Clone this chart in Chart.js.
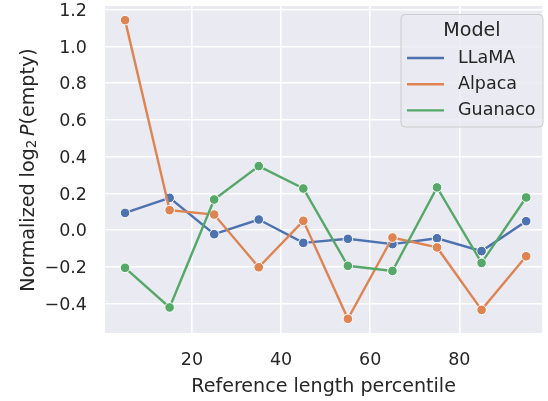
<!DOCTYPE html>
<html>
<head>
<meta charset="utf-8">
<script src="https://cdn.jsdelivr.net/npm/chart.js@4.4.1/dist/chart.umd.min.js"></script>
<style>
  html, body { margin: 0; padding: 0; background: #ffffff; overflow: hidden; }
  #wrap { width: 548px; height: 401px; }
</style>
</head>
<body>
<div id="wrap"><canvas id="c" width="548" height="401"></canvas></div>
<script>
// ---- data ----
const percentiles = [5, 15, 25, 35, 45, 55, 65, 75, 85, 95];
const seriesNames = ["LLaMA", "Alpaca", "Guanaco"];
const llama   = [0.094, 0.176, -0.022, 0.058, -0.069, -0.047, -0.076, -0.044, -0.114, 0.049];
const alpaca  = [1.144, 0.109, 0.085, -0.202, 0.051, -0.483, -0.040, -0.094, -0.434, -0.142];
const guanaco = [-0.205, -0.421, 0.167, 0.349, 0.227, -0.194, -0.222, 0.233, -0.178, 0.178];
const xTickValues = [20, 40, 60, 80];
const yTickValues = [-0.4, -0.2, 0.0, 0.2, 0.4, 0.6, 0.8, 1.0, 1.2];
const xTitle = "Reference length percentile";
const legendTitle = "Model";

const colors = ["#4C72B0", "#DD8452", "#55A868"];
const textColor = "#262626";
const FONT = "'DejaVu Sans', sans-serif";

function pts(arr) { return percentiles.map((p, i) => ({ x: p, y: arr[i] })); }
const seriesValues = [llama, alpaca, guanaco];

const datasets = seriesValues.map((vals, i) => ({
  label: seriesNames[i],
  data: pts(vals),
  borderColor: colors[i],
  backgroundColor: colors[i],
  pointBackgroundColor: colors[i],
  pointBorderColor: "#ffffff",
  pointBorderWidth: 1,
  pointRadius: 4.8,
  borderWidth: 2.4,
  tension: 0,
  order: seriesNames.length - i
}));

const bgPlugin = {
  id: "bg",
  beforeDraw(chart) {
    const { ctx, chartArea: a } = chart;
    ctx.save();
    ctx.fillStyle = "#EAEAF2";
    ctx.fillRect(a.left, a.top, a.right - a.left, a.bottom - a.top);
    ctx.restore();
  }
};

const yTitlePlugin = {
  id: "ytitle",
  afterDraw(chart) {
    const ctx = chart.ctx;
    const size = 19.1, sub = 13.4;
    const segs = [
      { t: "Normalized log", f: `${size}px ${FONT}`, dy: 0 },
      { t: "2", f: `${sub}px ${FONT}`, dy: 2.0 },
      { t: "\u2009", f: `${size}px ${FONT}`, dy: 0 },
      { t: "P", f: `oblique ${size}px ${FONT}`, dy: 0 },
      { t: "(empty)", f: `${size}px ${FONT}`, dy: 0 }
    ];
    ctx.save();
    let total = 0;
    segs.forEach(s => { ctx.font = s.f; s.w = ctx.measureText(s.t).width; total += s.w; });
    ctx.translate(34.3, 170);
    ctx.rotate(-Math.PI / 2);
    ctx.fillStyle = textColor;
    ctx.textBaseline = "alphabetic";
    ctx.textAlign = "left";
    let u = -total / 2;
    segs.forEach(s => { ctx.font = s.f; ctx.fillText(s.t, u, s.dy); u += s.w; });
    ctx.restore();
  }
};

const legendPlugin = {
  id: "customLegend",
  afterDraw(chart) {
    const ctx = chart.ctx;
    const x0 = 401, y0 = 14.5, w = 142, h = 112.5, r = 4;
    ctx.save();
    ctx.beginPath();
    ctx.roundRect(x0, y0, w, h, r);
    ctx.fillStyle = "rgba(234,234,242,0.8)";
    ctx.fill();
    ctx.lineWidth = 1;
    ctx.strokeStyle = "#CCCCCC";
    ctx.stroke();
    ctx.fillStyle = textColor;
    ctx.textBaseline = "middle";
    ctx.textAlign = "center";
    ctx.font = `19.1px ${FONT}`;
    ctx.fillText(legendTitle, 472, 31.5);
    ctx.textAlign = "left";
    ctx.font = `17.5px ${FONT}`;
    chart.data.datasets.forEach((ds, i) => {
      const y = 58 + i * 26.2;
      ctx.strokeStyle = ds.borderColor;
      ctx.lineWidth = 2.4;
      ctx.beginPath();
      ctx.moveTo(407, y);
      ctx.lineTo(444, y);
      ctx.stroke();
      ctx.fillStyle = textColor;
      ctx.fillText(ds.label, 458, y);
    });
    ctx.restore();
  }
};

function fmtY(v) {
  const s = Number(v).toFixed(1);
  return s.replace("-", "\u2212");
}

new Chart(document.getElementById("c"), {
  type: "line",
  data: { datasets },
  plugins: [bgPlugin, yTitlePlugin, legendPlugin],
  options: {
    responsive: false,
    devicePixelRatio: 1,
    animation: false,
    layout: { padding: { top: 6, left: 0, right: 0, bottom: 0 } },
    plugins: { legend: { display: false }, tooltip: { enabled: false } },
    scales: {
      x: {
        type: "linear",
        min: 0.5,
        max: 98.6,
        border: { display: false },
        grid: { color: "#ffffff", lineWidth: 1.6, drawTicks: false },
        afterBuildTicks(scale) { scale.ticks = xTickValues.map(v => ({ value: v })); },
        afterFit(scale) { scale.height = 68; scale.paddingLeft = 0; scale.paddingRight = 0; },
        ticks: {
          padding: 17,
          color: textColor,
          font: { family: FONT, size: 17.5 },
          maxRotation: 0,
          callback: v => String(v)
        },
        title: {
          display: true,
          text: xTitle,
          color: textColor,
          font: { family: FONT, size: 19.1, lineHeight: 1.2 },
          padding: { top: 0, bottom: 3 }
        }
      },
      y: {
        type: "linear",
        min: -0.56,
        max: 1.221,
        border: { display: false },
        grid: { color: "#ffffff", lineWidth: 1.6, drawTicks: false },
        afterBuildTicks(scale) { scale.ticks = yTickValues.map(v => ({ value: v })); },
        afterFit(scale) { scale.width = 105; scale.paddingTop = 0; scale.paddingBottom = 0; },
        ticks: {
          padding: 18,
          labelOffset: 1.5,
          color: textColor,
          font: { family: FONT, size: 17.5 },
          callback: v => fmtY(v)
        }
      }
    }
  }
});
</script>
</body>
</html>
